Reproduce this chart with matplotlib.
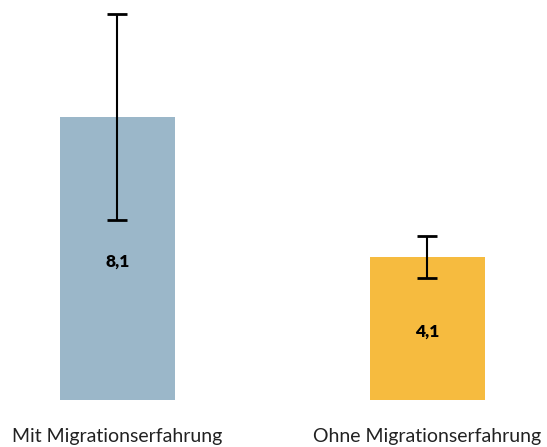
import numpy as np
import matplotlib.pyplot as plt

# Werte aus der Grafik
categories = ["Mit Migrationserfahrung", "Ohne Migrationserfahrung"]
values = [8.1, 4.1]
err_low = [5.15, 3.49]
err_high = [11.05, 4.69]
labels = ["8,1", "4,1"]
colors = ["#9BB7C9", "#F6BB3F"]

plt.rcParams['font.family'] = ['Lato', 'DejaVu Sans']

fig = plt.figure(figsize=(5.47, 4.47), dpi=100)
ax = fig.add_axes([0, 47 / 447, 1, 400 / 447])

x = np.arange(len(categories))
vals = np.array(values)
yerr = np.array([vals - np.array(err_low), np.array(err_high) - vals])

ax.bar(x, vals, width=115 / 310, color=colors)
ax.errorbar(x, vals, yerr=yerr, fmt='none', ecolor='black', elinewidth=1.5,
            capsize=7.5, capthick=2)

for xi, v, lab in zip(x, vals, labels):
    ax.text(xi, v / 2 - 0.1, lab, ha='center', va='center',
            fontsize=12.5, fontweight='heavy', color='black')

ax.set_xlim(-117.5 / 310, (547 - 117.5) / 310)
ax.set_ylim(0, 400 / 34.94)
ax.set_xticks(x)
ax.set_xticklabels(categories, fontsize=14, color='#222222')
ax.tick_params(axis='x', length=0, pad=20)
ax.set_yticks([])
for s in ax.spines.values():
    s.set_visible(False)

fig.savefig("out.png", dpi=100)
